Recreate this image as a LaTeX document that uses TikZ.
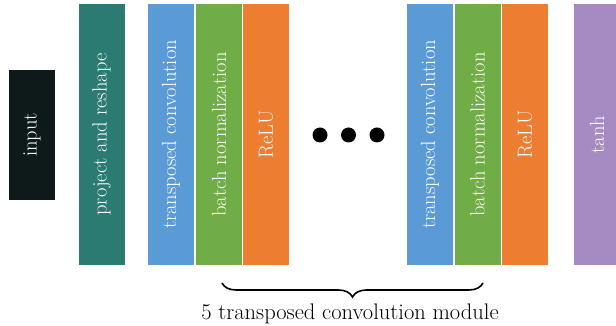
\documentclass[tikz,border=0pt]{standalone}
\usetikzlibrary{decorations.pathreplacing}
\definecolor{cinput}{HTML}{0E1A1A}
\definecolor{cteal}{HTML}{2B7B73}
\definecolor{cblue}{HTML}{5B9BD5}
\definecolor{cgreen}{HTML}{70AD47}
\definecolor{corange}{HTML}{ED7D31}
\definecolor{cpurple}{HTML}{A68BC3}
\begin{document}
\begin{tikzpicture}[x=1pt,y=1pt,
  blk/.style={rotate=90, inner sep=0pt, minimum width=261pt, minimum height=46pt,
    text=white, font=\fontsize{20.5}{24}\selectfont},
  dot/.style={circle, fill=black, inner sep=0pt, minimum size=15pt}]
\useasboundingbox (0,0) rectangle (616,326);
\node[blk, fill=cinput, minimum width=130pt] (in) at (32,191) {input};
\node[blk, fill=cteal] (pr) at (101.5,191.5) {project and reshape};
\node[blk, fill=cblue] (tc1) at (171,191.5) {transposed convolution};
\node[blk, fill=cgreen] (bn1) at (219,191.5) {batch normalization};
\node[blk, fill=corange] (re1) at (266,191.5) {ReLU};
\node[dot] (d1) at (320,191) {};
\node[dot] (d2) at (348.5,191) {};
\node[dot] (d3) at (377,191) {};
\node[blk, fill=cblue] (tc2) at (430,191.5) {transposed convolution};
\node[blk, fill=cgreen] (bn2) at (477.5,191.5) {batch normalization};
\node[blk, fill=corange] (re2) at (525,191.5) {ReLU};
\node[blk, fill=cpurple] (th) at (597,191.5) {tanh};
\coordinate (bl) at (222,43);
\coordinate (br) at (483,43);
\draw[line width=1.6pt, decorate, decoration={brace, mirror, amplitude=14pt}] (bl) -- (br);
\node[font=\fontsize{22.5}{26}\selectfont] (lab) at (350,12) {5 transposed convolution module};
\end{tikzpicture}
\end{document}
